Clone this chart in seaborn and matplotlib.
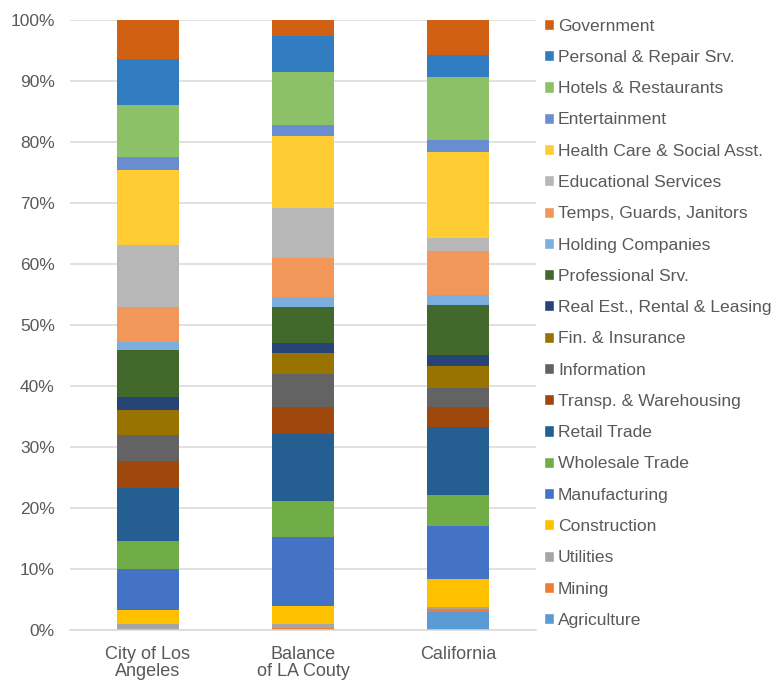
import numpy as np
import pandas as pd
import matplotlib
matplotlib.use('Agg')
import matplotlib.pyplot as plt
import seaborn as sns
from matplotlib.patches import Patch
from matplotlib.ticker import PercentFormatter

sns.set_style('white')
plt.rcParams['font.family'] = ['Liberation Sans', 'DejaVu Sans']

regions = ['City of Los\nAngeles', 'Balance\nof LA Couty', 'California']

# bottom to top
sectors = ['Agriculture', 'Mining', 'Utilities', 'Construction', 'Manufacturing',
           'Wholesale Trade', 'Retail Trade', 'Transp. & Warehousing', 'Information',
           'Fin. & Insurance', 'Real Est., Rental & Leasing', 'Professional Srv.',
           'Holding Companies', 'Temps, Guards, Janitors', 'Educational Services',
           'Health Care & Social Asst.', 'Entertainment', 'Hotels & Restaurants',
           'Personal & Repair Srv.', 'Government']

# share of employment, %
city_la = [0.1, 0.1, 0.9, 2.2, 6.8, 4.5, 8.8, 4.3, 4.3, 4.1, 2.2, 7.65,
           1.35, 5.65, 10.15, 12.4, 2.1, 8.5, 7.5, 6.4]
balance_la = [0.15, 0.2, 0.6, 3.05, 11.25, 5.95, 11.0, 4.4, 5.4, 3.4, 1.65, 5.95,
              1.6, 6.4, 8.3, 11.7, 1.9, 8.7, 5.9, 2.5]
california = [3.05, 0.4, 0.3, 4.65, 8.75, 5.05, 11.2, 3.2, 3.1, 3.6, 1.9, 8.2,
              1.6, 7.1, 2.2, 14.1, 1.9, 10.4, 3.6, 5.7]

colors = ['#5B9BD5', '#ED7D31', '#A5A5A5', '#FFC000', '#4472C4', '#70AD47',
          '#255E91', '#9E480E', '#636363', '#997300', '#264478', '#43682B',
          '#7CAFDD', '#F1975A', '#B7B7B7', '#FFCD33', '#698ED0', '#8CC168',
          '#327DC2', '#D26012']

df = pd.DataFrame({'sector': sectors, regions[0]: city_la,
                   regions[1]: balance_la, regions[2]: california})
tot = df[regions].sum()
df[regions] = df[regions] / tot * 100

fig = plt.figure(figsize=(7.76, 6.81), dpi=100)
ax = fig.add_axes([0.0902, 0.0745, 0.6005, 0.8957])

bottom = np.zeros(len(regions))
for i, row in df.iterrows():
    vals = row[regions].values.astype(float)
    sns.barplot(x=regions, y=vals, bottom=bottom, color=colors[i], width=0.4,
                saturation=1, linewidth=0, ax=ax)
    bottom = bottom + vals

ax.set_ylim(0, 100)
ax.set_xlim(-0.5, 2.5)
ax.yaxis.set_major_locator(plt.MultipleLocator(10))
ax.yaxis.set_major_formatter(PercentFormatter(decimals=0))
ax.yaxis.grid(True, color='#D9D9D9', linewidth=1.1)
ax.set_axisbelow(True)
for s in ['top', 'right', 'left']:
    ax.spines[s].set_visible(False)
ax.spines['bottom'].set_color('#D9D9D9')
ax.spines['bottom'].set_linewidth(1.1)
ax.tick_params(axis='both', length=0, colors='#595959')
ax.tick_params(axis='y', labelsize=12.5, pad=11)
ax.tick_params(axis='x', labelsize=13, pad=11)
ax.set_xlabel('')
ax.set_ylabel('')
for t in ax.get_xticklabels():
    t.set_linespacing(1.05)

handles = [Patch(facecolor=c, label=s) for s, c in zip(sectors, colors)][::-1]
leg = fig.legend(handles=handles, loc='upper left', bbox_to_anchor=(0.692, 0.983),
                 frameon=False, fontsize=12.6, handlelength=0.6, handleheight=0.6,
                 handletextpad=0.2, labelspacing=0.93, borderaxespad=0)
for t in leg.get_texts():
    t.set_color('#595959')

fig.savefig('out.png', dpi=100)
